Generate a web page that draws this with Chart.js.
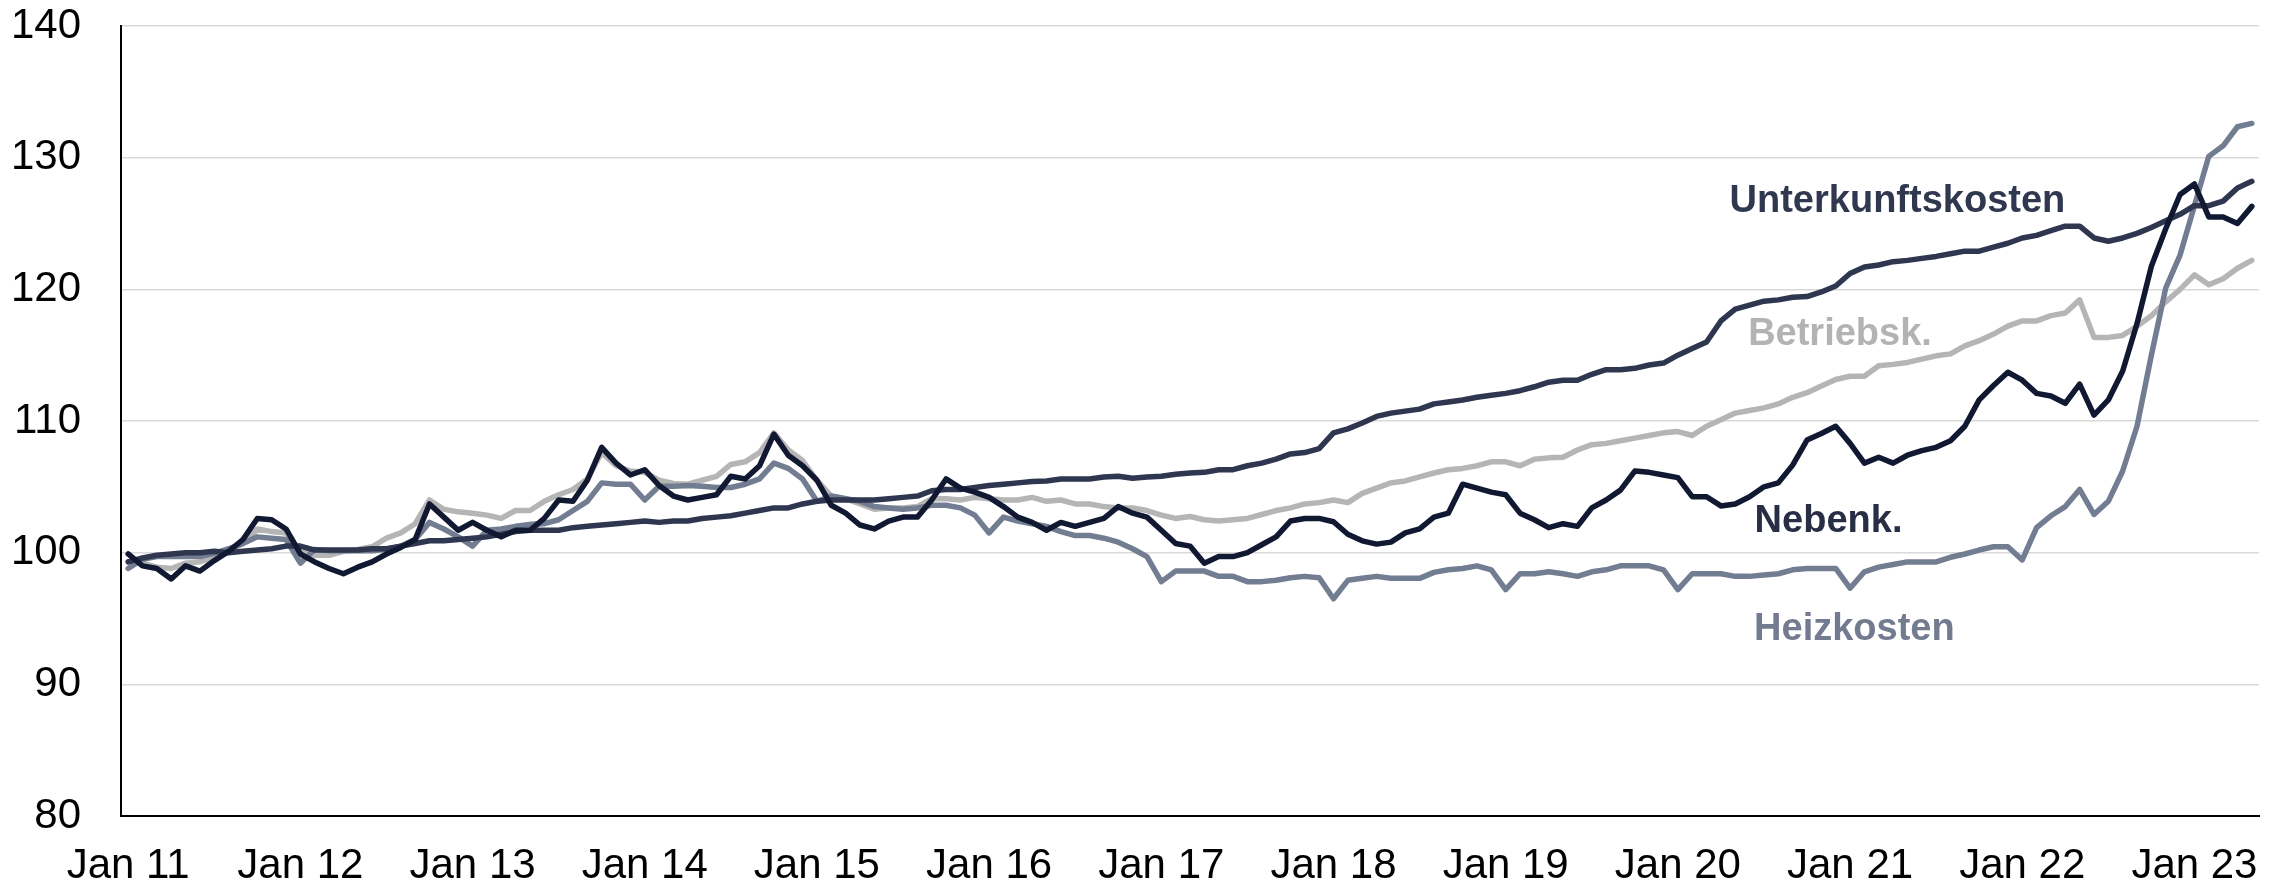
<!DOCTYPE html>
<html>
<head>
<meta charset="utf-8">
<title>Wohnkosten Index</title>
<script src="https://cdn.jsdelivr.net/npm/chart.js@4.4.1/dist/chart.umd.min.js"></script>
<style>
    html, body { margin: 0; padding: 0; background: #ffffff; }
    canvas { display: block; }
</style>
</head>
<body>
<canvas id="chart" width="2286" height="886"></canvas>
<script>
// Monatswerte Jan 11 bis Mai 23 (Index)
const monthNames = ['Jan', 'Feb', 'Mar', 'Apr', 'May', 'Jun', 'Jul', 'Aug', 'Sep', 'Oct', 'Nov', 'Dec'];
const years = ['11', '12', '13', '14', '15', '16', '17', '18', '19', '20', '21', '22', '23'];
const lastYearMonths = 5;

const yTicks = [80, 90, 100, 110, 120, 130, 140];

const nebenkosten = [
    99.9, 99.0, 98.8, 98.0, 99.0, 98.6, 99.4, 100.1, 101.0, 102.6, 102.5, 101.8,
    99.9, 99.3, 98.8, 98.4, 98.9, 99.3, 99.9, 100.4, 101.0, 103.7, 102.7, 101.7,
    102.3, 101.7, 101.2, 101.7, 101.7, 102.6, 104.0, 103.9, 105.5, 108.0, 106.8, 105.9,
    106.3, 105.1, 104.3, 104.0, 104.2, 104.4, 105.8, 105.6, 106.6, 109.0, 107.4, 106.6,
    105.5, 103.6, 103.0, 102.1, 101.8, 102.4, 102.7, 102.7, 104.0, 105.6, 104.9, 104.6,
    104.2, 103.5, 102.7, 102.3, 101.7, 102.3, 102.0, 102.3, 102.6, 103.5, 103.0, 102.7,
    101.7, 100.7, 100.5, 99.2, 99.7, 99.7, 100.0, 100.6, 101.2, 102.4, 102.6, 102.6,
    102.35, 101.4, 100.9, 100.65, 100.8, 101.5, 101.8, 102.7, 103.0, 105.2, 104.9, 104.6,
    104.4, 103.0, 102.5, 101.9, 102.2, 102.0, 103.4, 104.0, 104.75, 106.2, 106.1, 105.9,
    105.7, 104.25, 104.25, 103.55, 103.7, 104.25, 105.0, 105.3, 106.65, 108.55, 109.05, 109.6,
    108.3, 106.8, 107.25, 106.8, 107.4, 107.75, 108.0, 108.5, 109.6, 111.6, 112.7, 113.7,
    113.1, 112.1, 111.9, 111.35, 112.8, 110.45, 111.6, 113.8, 117.4, 121.75, 124.6, 127.2,
    128.0, 125.5, 125.5, 125.0, 126.3
];

const unterkunftskosten = [
    99.3, 99.6, 99.8, 99.9, 100.0, 100.0, 100.1, 100.0, 100.1, 100.2, 100.3, 100.5,
    100.5, 100.2, 100.2, 100.2, 100.2, 100.3, 100.3, 100.5, 100.7, 100.9, 100.9, 101.0,
    101.1, 101.2, 101.4, 101.6, 101.7, 101.7, 101.7, 101.9, 102.0, 102.1, 102.2, 102.3,
    102.4, 102.3, 102.4, 102.4, 102.6, 102.7, 102.8, 103.0, 103.2, 103.4, 103.4, 103.7,
    103.9, 104.0, 104.0, 104.0, 104.0, 104.1, 104.2, 104.3, 104.7, 104.8, 104.8, 104.95,
    105.1, 105.2, 105.3, 105.4, 105.45, 105.6, 105.6, 105.6, 105.75, 105.8, 105.65, 105.75,
    105.8, 105.95, 106.05, 106.1, 106.3, 106.3, 106.6, 106.8, 107.1, 107.5, 107.6, 107.9,
    109.1, 109.4, 109.85, 110.35, 110.6, 110.75, 110.9, 111.3, 111.45, 111.6, 111.8, 111.95,
    112.1, 112.3, 112.6, 112.95, 113.1, 113.1, 113.55, 113.9, 113.9, 114.0, 114.25, 114.4,
    115.0, 115.5, 116.0, 117.6, 118.5, 118.8, 119.1, 119.2, 119.4, 119.45, 119.8, 120.25,
    121.2, 121.7, 121.85, 122.1, 122.2, 122.35, 122.5, 122.7, 122.9, 122.9, 123.2, 123.5,
    123.9, 124.1, 124.45, 124.8, 124.8, 123.9, 123.65, 123.9, 124.25, 124.7, 125.2, 125.7,
    126.35, 126.35, 126.7, 127.7, 128.2
];

const heizkosten = [
    98.8, 99.5, 99.7, 99.7, 99.7, 99.7, 99.95, 100.3, 100.7, 101.2, 101.1, 101.0,
    99.2, 100.25, 100.15, 100.15, 100.15, 100.15, 100.25, 100.5, 101.0, 102.3, 101.8, 101.2,
    100.5, 101.7, 101.8, 102.0, 102.15, 102.2, 102.5, 103.2, 103.9, 105.3, 105.2, 105.2,
    104.0, 105.05, 105.05, 105.1, 105.05, 104.95, 104.95, 105.2, 105.6, 106.8, 106.4, 105.6,
    103.9, 104.3, 104.1, 103.9, 103.5, 103.4, 103.3, 103.4, 103.6, 103.6, 103.4, 102.85,
    101.5, 102.7, 102.4, 102.2, 102.0, 101.6, 101.3, 101.3, 101.1, 100.8, 100.3, 99.7,
    97.8, 98.6, 98.6, 98.6, 98.2, 98.2, 97.8, 97.8, 97.9, 98.1, 98.2, 98.1,
    96.5, 97.9, 98.05, 98.2, 98.05, 98.05, 98.05, 98.5, 98.7, 98.8, 99.0, 98.7,
    97.2, 98.4, 98.4, 98.55, 98.4, 98.2, 98.55, 98.7, 99.0, 99.0, 99.0, 98.7,
    97.2, 98.4, 98.4, 98.4, 98.2, 98.2, 98.3, 98.4, 98.7, 98.8, 98.8, 98.8,
    97.3, 98.55, 98.9, 99.1, 99.3, 99.3, 99.3, 99.65, 99.9, 100.2, 100.45, 100.45,
    99.45, 101.9, 102.8, 103.5, 104.8, 102.9, 103.9, 106.2, 109.6, 115.0, 120.1, 122.6,
    126.35, 130.1, 130.9, 132.35, 132.6
];

const betriebskosten = [
    99.3, 99.2, 98.9, 98.8, 99.2, 99.3, 99.7, 100.15, 100.7, 101.8, 101.6, 101.5,
    100.1, 99.8, 99.8, 100.1, 100.25, 100.45, 101.1, 101.5, 102.2, 104.0, 103.3, 103.1,
    103.0, 102.85, 102.6, 103.2, 103.2, 103.9, 104.4, 104.8, 105.6, 107.6, 106.6, 106.2,
    106.1, 105.5, 105.25, 105.2, 105.5, 105.8, 106.7, 106.9, 107.6, 109.1, 107.8, 107.0,
    105.5, 104.3, 104.1, 103.7, 103.3, 103.4, 103.4, 103.5, 104.1, 104.1, 104.0, 104.2,
    104.1, 104.0, 104.0, 104.2, 103.9, 104.0, 103.7, 103.7, 103.5, 103.4, 103.4, 103.2,
    102.85, 102.6, 102.75, 102.5, 102.4, 102.5, 102.6, 102.9, 103.2, 103.4, 103.7, 103.8,
    104.0, 103.8, 104.5, 104.9, 105.3, 105.45, 105.75, 106.05, 106.3, 106.4, 106.6, 106.9,
    106.9, 106.6, 107.1, 107.2, 107.25, 107.8, 108.2, 108.3, 108.5, 108.7, 108.9, 109.1,
    109.2, 108.9, 109.6, 110.1, 110.6, 110.8, 111.0, 111.3, 111.8, 112.15, 112.65, 113.15,
    113.4, 113.4, 114.2, 114.3, 114.45, 114.7, 114.95, 115.1, 115.7, 116.1, 116.6, 117.2,
    117.6, 117.6, 118.0, 118.2, 119.2, 116.35, 116.35, 116.5, 117.2, 118.0, 119.05, 120.0,
    121.1, 120.35, 120.8, 121.6, 122.2
];

// Beschriftungen direkt an den Linien (Index der Kategorie, Wert)
const seriesLabels = [
    { text: 'Unterkunftskosten', at: 123.3, value: 126.7, color: '#2f384f' },
    { text: 'Betriebsk.', at: 119.3, value: 116.6, color: '#b3b3b3' },
    { text: 'Nebenk.', at: 118.5, value: 102.4, color: '#272e46' },
    { text: 'Heizkosten', at: 120.3, value: 94.2, color: '#737b90' }
];

const labels = [];
years.forEach((yy, y) => {
    const count = y === years.length - 1 ? lastYearMonths : 12;
    for (let m = 0; m < count; m++) labels.push(monthNames[m] + ' ' + yy);
});

const FONT = '"Liberation Sans", Arial, Helvetica, sans-serif';

const lineLabelPlugin = {
    id: 'lineLabels',
    afterDatasetsDraw(chart) {
        const { ctx, scales } = chart;
        ctx.save();
        ctx.font = 'bold 38px ' + FONT;
        ctx.textAlign = 'center';
        ctx.textBaseline = 'middle';
        seriesLabels.forEach(l => {
            ctx.fillStyle = l.color;
            ctx.fillText(l.text, scales.x.getPixelForValue(l.at), scales.y.getPixelForValue(l.value));
        });
        ctx.restore();
    }
};

function lineSet(label, data, color) {
    return {
        label,
        data,
        borderColor: color,
        backgroundColor: color,
        borderWidth: 5.5,
        pointRadius: 0,
        tension: 0,
        borderJoinStyle: 'round',
        borderCapStyle: 'round'
    };
}

new Chart(document.getElementById('chart'), {
    type: 'line',
    data: {
        labels,
        datasets: [
            lineSet('Nebenk.', nebenkosten, '#111932'),
            lineSet('Unterkunftskosten', unterkunftskosten, '#2e3650'),
            lineSet('Heizkosten', heizkosten, '#737d92'),
            lineSet('Betriebsk.', betriebskosten, '#b5b5b5')
        ]
    },
    options: {
        responsive: false,
        animation: false,
        layout: { padding: { top: 26, right: 27, left: 0, bottom: 0 } },
        plugins: {
            legend: { display: false },
            tooltip: { enabled: false }
        },
        scales: {
            x: {
                type: 'category',
                offset: true,
                grid: { display: false, drawTicks: false },
                border: { display: true, color: '#000000', width: 2 },
                ticks: {
                    autoSkip: false,
                    maxRotation: 0,
                    minRotation: 0,
                    padding: 25,
                    color: '#000000',
                    font: { family: FONT, size: 42, lineHeight: 1.2 },
                    callback(value) {
                        const l = this.getLabelForValue(value);
                        return l.startsWith('Jan') ? l : null;
                    }
                },
                afterFit(scale) {
                    scale.height = 70;
                    scale.paddingLeft = 0;
                    scale.paddingRight = 0;
                }
            },
            y: {
                min: 80,
                max: 140,
                afterBuildTicks(scale) { scale.ticks = yTicks.map(v => ({ value: v })); },
                grid: { color: '#d9d9d9', lineWidth: 1.5, drawTicks: false },
                border: { display: true, color: '#000000', width: 2 },
                ticks: {
                    padding: 40,
                    color: '#000000',
                    font: { family: FONT, size: 42 }
                },
                afterFit(scale) {
                    scale.width = 121;
                    scale.paddingTop = 0;
                    scale.paddingBottom = 0;
                }
            }
        }
    },
    plugins: [lineLabelPlugin]
});
</script>
</body>
</html>
